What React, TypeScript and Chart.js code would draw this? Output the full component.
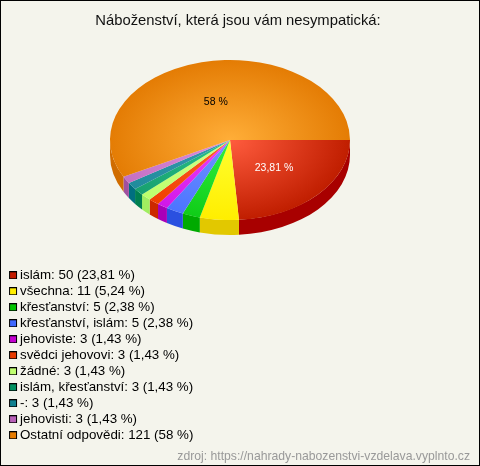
import React, { useEffect, useRef } from "react";
import { Chart, registerables } from "chart.js";

Chart.register(...registerables);

const titleText = "Náboženství, která jsou vám nesympatická:";
const sourceText = "zdroj: https://nahrady-nabozenstvi-vzdelava.vyplnto.cz";
const categories = ["islám", "všechna", "křesťanství", "křesťanství, islám", "jehoviste", "svědci jehovovi", "žádné", "islám, křesťanství", "-", "jehovisti", "Ostatní odpovědi"];
const values = [50, 11, 5, 5, 3, 3, 3, 3, 3, 3, 121];
const percents = ["23,81", "5,24", "2,38", "2,38", "1,43", "1,43", "1,43", "1,43", "1,43", "1,43", "58"];
const swatchColors = ["#c41c00", "#ffee00", "#00c400", "#3f68ff", "#c400d0", "#e83a00", "#c0ff70", "#009060", "#108090", "#b860b8", "#e87c00"];
const innerColors = ["#ff5c3e", "#ffff30", "#30f040", "#7094ff", "#f040fa", "#ff6028", "#d4ff88", "#28c488", "#3898b0", "#dc90dc", "#ffae38"];
const outerColors = ["#c01e00", "#ffee00", "#10cc18", "#4c74ff", "#d018e8", "#f04000", "#bcff6c", "#18a070", "#208c9c", "#c470c4", "#e47c04"];
const wallColors = ["#a80000", "#e2c800", "#00aa00", "#2a50e0", "#a800b8", "#cc2800", "#a0ee60", "#008050", "#006f80", "#a050a0", "#d06c00"];

const CX = 230, CY = 140, RX = 120, RY = 80, DEPTH = 15;

function swatch(color: string) {
  const c = document.createElement("canvas");
  c.width = 16;
  c.height = 8;
  const g = c.getContext("2d")!;
  g.fillStyle = "#000";
  g.fillRect(6, 0, 8, 8);
  g.fillStyle = color;
  g.fillRect(7, 1, 6, 6);
  return c;
}

const pie3d = {
  id: "pie3d",
  beforeDraw(chart: any) {
    const { ctx, width, height } = chart;
    ctx.save();
    ctx.fillStyle = "#f4f4ec";
    ctx.fillRect(0, 0, width, height);
    ctx.strokeStyle = "#000";
    ctx.lineWidth = 1;
    ctx.strokeRect(0.5, 0.5, width - 1, height - 1);
    ctx.restore();
  },
  beforeDatasetsDraw(chart: any) {
    const { ctx } = chart;
    const arcs = chart.getDatasetMeta(0).data;
    ctx.save();
    arcs.forEach((arc: any, i: number) => {
      const a1 = arc.startAngle;
      const a2 = Math.min(arc.endAngle, Math.PI);
      if (a1 >= Math.PI || a2 <= a1) return;
      ctx.beginPath();
      ctx.ellipse(CX, CY, RX, RY, 0, a1, a2);
      ctx.ellipse(CX, CY + DEPTH, RX, RY, 0, a2, a1, true);
      ctx.closePath();
      ctx.fillStyle = wallColors[i];
      ctx.fill();
    });
    ctx.restore();
    const first = arcs[0];
    const R = first.outerRadius;
    ctx.save();
    ctx.translate(CX, CY);
    ctx.scale(RX / R, RY / R);
    ctx.translate(-first.x, -first.y);
  },
  afterDatasetsDraw(chart: any) {
    const { ctx } = chart;
    ctx.restore();
    const arcs = chart.getDatasetMeta(0).data;
    const R = arcs[0].outerRadius;
    ctx.save();
    ctx.font = "10.5px 'Liberation Sans'";
    ctx.textAlign = "center";
    ctx.textBaseline = "middle";
    arcs.forEach((arc: any, i: number) => {
      if (values[i] < 20) return;
      const p = arc.getCenterPoint();
      const x = CX + ((p.x - arc.x) * RX) / R;
      const y = CY + ((p.y - arc.y) * RY) / R;
      ctx.fillStyle = i === 0 ? "#ffffff" : "#000000";
      ctx.fillText(`${percents[i]} %`, x, y + 1);
    });
    ctx.restore();
  },
};

export default function App() {
  const ref = useRef<HTMLCanvasElement>(null);
  useEffect(() => {
    const chart = new Chart(ref.current!, {
      type: "pie",
      data: {
        labels: categories,
        datasets: [
          {
            data: values,
            clip: false,
            borderWidth: 0,
            backgroundColor: (c: any) => {
              const area = c.chart.chartArea;
              const i = c.dataIndex ?? 0;
              if (!area) return outerColors[i];
              const x = (area.left + area.right) / 2;
              const y = (area.top + area.bottom) / 2;
              const r = Math.min(area.right - area.left, area.bottom - area.top) / 2;
              const g = c.chart.ctx.createRadialGradient(x, y, 0, x, y, r);
              g.addColorStop(0, innerColors[i]);
              g.addColorStop(1, outerColors[i]);
              return g;
            },
          } as any,
        ],
      },
      plugins: [pie3d],
      options: {
        responsive: false,
        animation: false,
        rotation: 90,
        layout: { padding: { left: 6, right: 10, top: 0, bottom: 0 } },
        plugins: {
          tooltip: { enabled: false },
          title: {
            display: true,
            text: titleText,
            color: "#111",
            font: { family: "'Liberation Sans'", size: 14.8, weight: "normal" },
            padding: { top: 12, bottom: -27 },
          },
          subtitle: {
            display: true,
            position: "bottom",
            align: "end",
            text: sourceText,
            color: "#999",
            font: { family: "'Liberation Sans'", size: 12.2, weight: "normal" },
            padding: { top: 2, bottom: 2 },
          },
          legend: {
            position: "chartArea" as any,
            align: "end",
            labels: {
              usePointStyle: true,
              pointStyleWidth: 4.67,
              boxHeight: 8,
              padding: 2.67,
              color: "#111",
              font: { family: "'Liberation Sans'", size: 13.33 },
              generateLabels: () =>
                categories.map((name, i) => ({
                  text: `${name}: ${values[i]} (${percents[i]} %)`,
                  pointStyle: swatch(swatchColors[i]),
                  fillStyle: swatchColors[i],
                  strokeStyle: "#000",
                  lineWidth: 1,
                  hidden: false,
                  index: i,
                })),
            },
          },
        },
      },
    } as any);
    return () => chart.destroy();
  }, []);
  return (
    <div style={{ position: "absolute", left: 0, top: 0 }}>
      <canvas ref={ref} width={480} height={466} style={{ display: "block" }} />
    </div>
  );
}
